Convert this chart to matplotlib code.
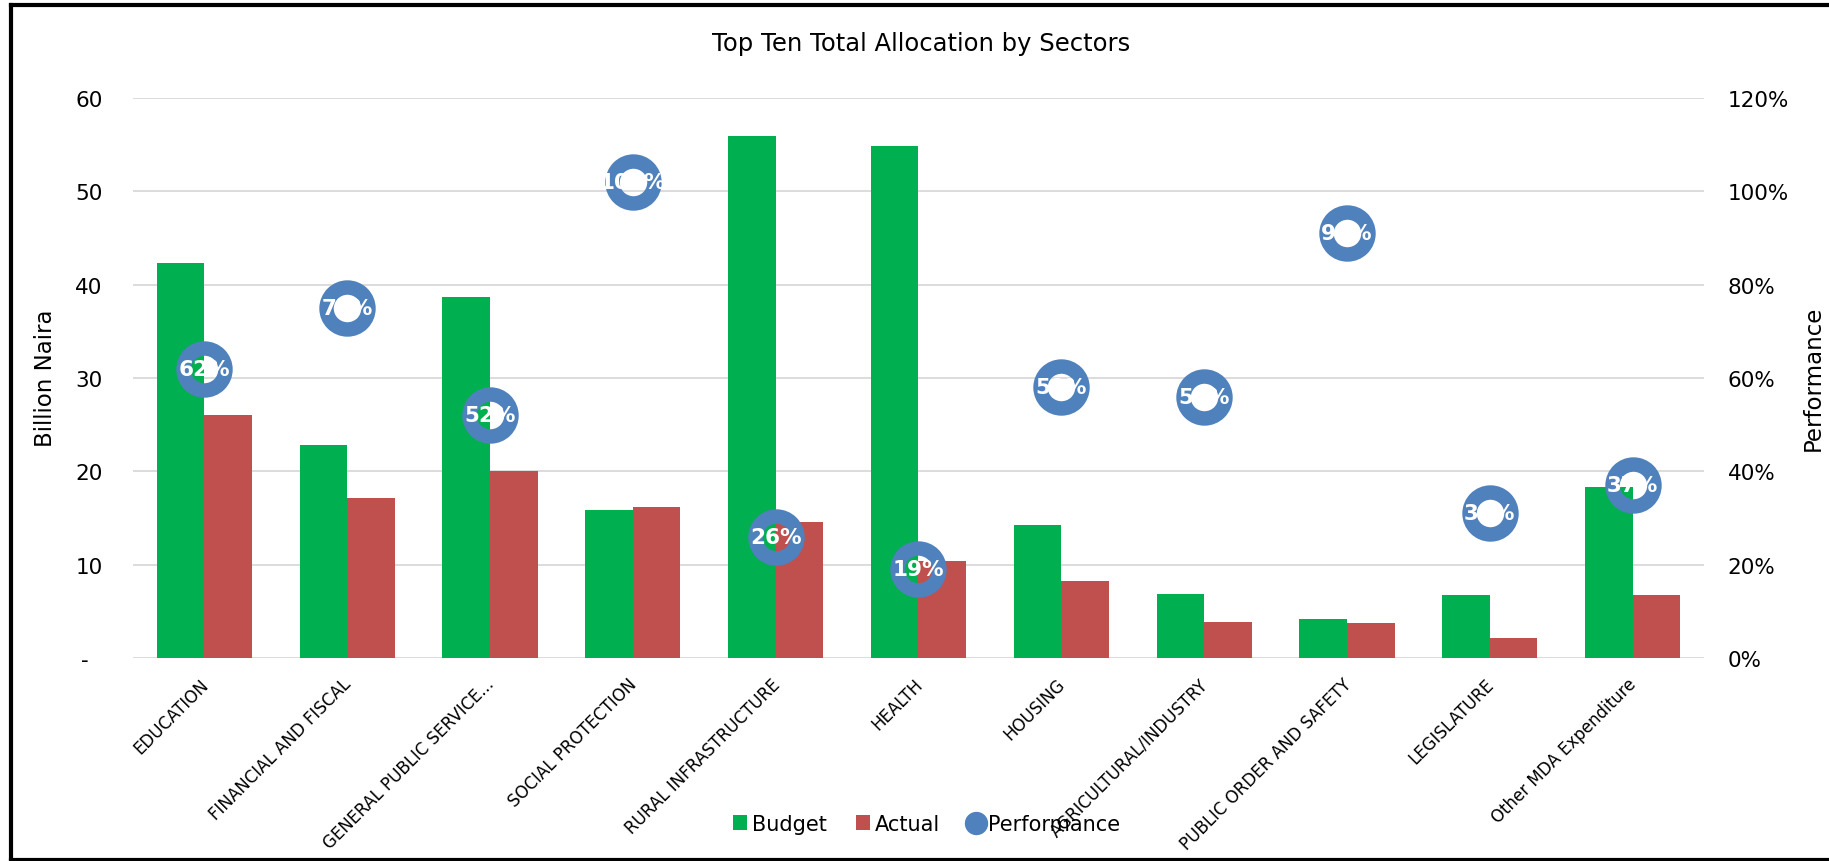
import matplotlib
matplotlib.use('Agg')
import matplotlib.pyplot as plt
import matplotlib.transforms as mtransforms
from matplotlib.lines import Line2D
from matplotlib.patches import Patch
from matplotlib.ticker import FuncFormatter
import numpy as np

# Sectores y montos (miles de millones de Naira)
sectores = ['EDUCATION', 'FINANCIAL AND FISCAL', 'GENERAL PUBLIC SERVICE...',
            'SOCIAL PROTECTION', 'RURAL INFRASTRUCTURE', 'HEALTH', 'HOUSING',
            'AGRICULTURAL/INDUSTRY', 'PUBLIC ORDER AND SAFETY', 'LEGISLATURE',
            'Other MDA Expenditure']
budget = [42.3, 22.8, 38.7, 15.9, 55.9, 54.9, 14.2, 6.9, 4.2, 6.8, 18.3]
actual = [26.0, 17.1, 20.0, 16.2, 14.6, 10.4, 8.3, 3.9, 3.8, 2.1, 6.8]
performance = [62, 75, 52, 102, 26, 19, 58, 56, 91, 31, 37]  # en %

verde = '#00B050'
rojo = '#C0504D'
azul = '#4F81BD'
gris = '#D9D9D9'


def main():
    fig = plt.figure(figsize=(18.29, 8.62), dpi=100)
    ax = fig.add_axes([133 / 1829, 1 - 659 / 862, 1571 / 1829, 560 / 862])
    ax2 = ax.twinx()

    x = np.arange(len(sectores))
    ancho = 1 / 3
    ax.bar(x - ancho / 2, budget, ancho, color=verde, zorder=2)
    ax.bar(x + ancho / 2, actual, ancho, color=rojo, zorder=2)

    # anillos de desempeno con su etiqueta
    pct = np.array(performance) / 100
    ax2.plot(x, pct, ls='none', marker='o', markersize=30.2, markeredgewidth=10.4,
             markerfacecolor='none', markeredgecolor=azul)
    for i, p in enumerate(performance):
        ax2.text(x[i], pct[i], '{}%'.format(p), ha='center', va='center',
                 color='white', fontweight='bold', fontsize=15.5)

    ax.set_xlim(-0.5, len(sectores) - 0.5)
    ax.set_ylim(0, 60)
    ax2.set_ylim(0, 1.2)
    ax.set_yticks(np.arange(0, 61, 10))
    ax2.set_yticks(np.arange(0, 1.21, 0.2))
    ax.yaxis.set_major_formatter(FuncFormatter(lambda v, pos: '-  ' if v == 0 else '{:.0f}'.format(v)))
    ax2.yaxis.set_major_formatter(FuncFormatter(lambda v, pos: '{:.0f}%'.format(v * 100)))

    ax.grid(axis='y', color=gris, lw=1.3, zorder=0)
    ax.set_axisbelow(True)
    for a in (ax, ax2):
        for s in a.spines.values():
            s.set_visible(False)
    ax.tick_params(axis='y', length=0, pad=22, labelsize=15.5)
    ax2.tick_params(axis='y', length=0, pad=17, labelsize=15.5)

    ax.set_xticks(x)
    ax.set_xticklabels(sectores, rotation=45, ha='right', va='top',
                       rotation_mode='anchor', fontsize=12)
    ax.tick_params(axis='x', length=0, pad=12)
    desplaza = mtransforms.ScaledTranslation(-5 / 100, 0, fig.dpi_scale_trans)
    for etiqueta in ax.get_xticklabels():
        etiqueta.set_transform(etiqueta.get_transform() + desplaza)

    fig.text(46 / 1829, 1 - 378 / 862, 'Billion Naira', rotation=90,
             ha='center', va='center', fontsize=16.5)
    fig.text(1813 / 1829, 1 - 378 / 862, 'Performance', rotation=90,
             ha='center', va='center', fontsize=16.5)
    fig.text(921 / 1829, 1 - 44 / 862, 'Top Ten Total Allocation by Sectors',
             ha='center', va='center', fontsize=17.5)

    manijas = [Patch(facecolor=verde), Patch(facecolor=rojo),
               Line2D([], [], ls='none', marker='o', markersize=15.8, color=azul)]
    fig.legend(manijas, ['Budget', 'Actual', 'Performance'], loc='center',
               bbox_to_anchor=(926.5 / 1829, 37 / 862), ncol=3, frameon=False,
               fontsize=15, handlelength=0.67, handleheight=0.7,
               handletextpad=0.24, columnspacing=1.4, borderpad=0)

    # marco negro: arriba, izquierda y abajo
    x0, y0, y1 = 10.5 / 1829, 1.5 / 862, 1 - 6 / 862
    for xs, ys in (([x0, 1], [y1, y1]), ([x0, x0], [y0, y1]), ([x0, 1], [y0, y0])):
        fig.add_artist(Line2D(xs, ys, transform=fig.transFigure, color='black',
                              lw=3, solid_capstyle='projecting'))

    fig.savefig('out.png', dpi=100)


if __name__ == '__main__':
    main()
